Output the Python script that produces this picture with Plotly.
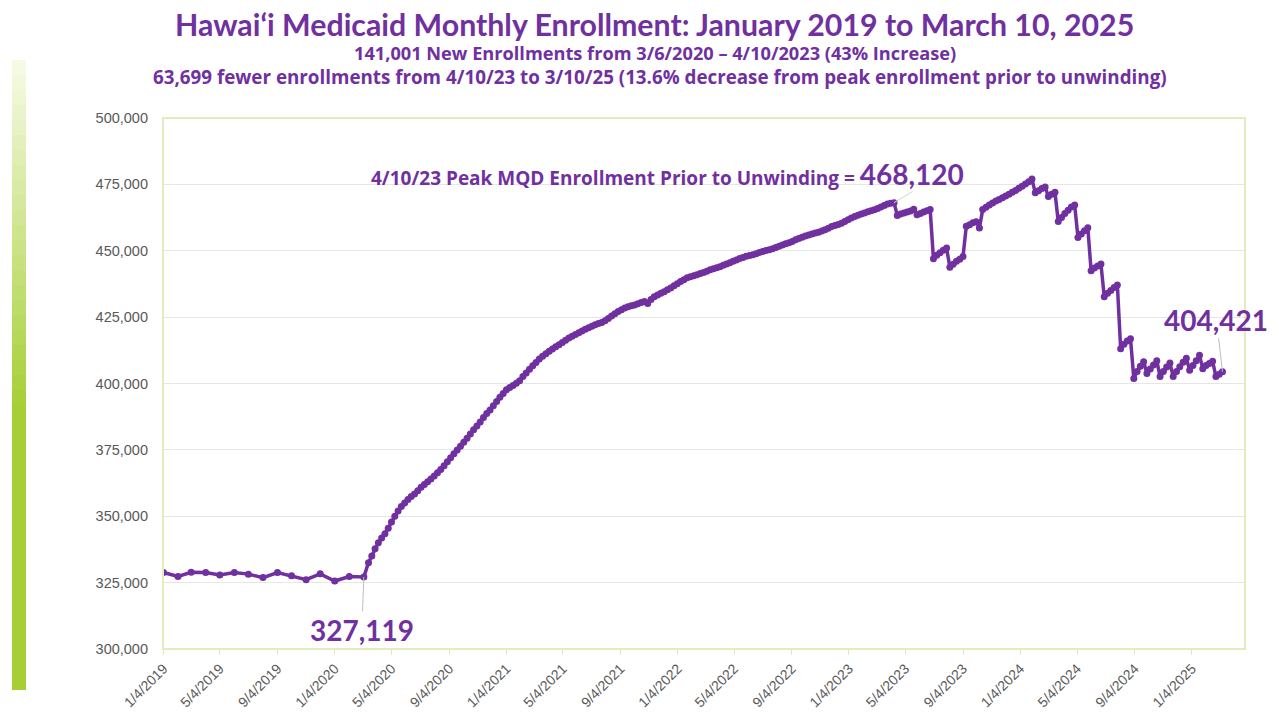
import pandas as pd
import plotly.graph_objects as go

# ---------------- data ----------------
monthly_dates = ["2019-01-04", "2019-02-04", "2019-03-04", "2019-04-04", "2019-05-04",
                 "2019-06-04", "2019-07-04", "2019-08-04", "2019-09-04", "2019-10-04",
                 "2019-11-04", "2019-12-04", "2020-01-04", "2020-02-04", "2020-03-06"]
monthly_values = [328800, 327300, 328900, 328800, 327900, 328800, 328200, 326900, 328800,
                  327600, 326100, 328300, 325600, 327300, 327119]

weekly_start = "2020-03-16"
weekly_end = "2025-03-10"
weekly_values = [
    332500, 335000, 337800, 340000, 341800, 343400, 345500, 347800, 350000, 352000,
    353700, 355000, 356300, 357400, 358400, 359600, 360900, 362000, 363000, 364000,
    365200, 366400, 367600, 369000, 370500, 372000, 373500, 375000, 376400, 377900,
    379400, 381000, 382600, 384000, 385500, 387200, 388700, 390000, 391600, 393200,
    394800, 396200, 397600, 398500, 399200, 400100, 401000, 402600, 404000, 405400,
    406700, 407900, 409200, 410300, 411200, 412100, 413000, 413800, 414600, 415400,
    416300, 417100, 417800, 418500, 419100, 419800, 420400, 421000, 421600, 422100,
    422600, 423000, 423600, 424500, 425400, 426300, 427100, 427800, 428400, 428900,
    429300, 429600, 430000, 430500, 430900, 430100, 431600, 432700, 433300, 434000,
    434600, 435300, 436000, 436800, 437600, 438400, 439100, 439800, 440200, 440600,
    441000, 441400, 441800, 442300, 442800, 443200, 443600, 444000, 444500, 445000,
    445500, 446000, 446500, 447100, 447500, 447900, 448200, 448500, 448900, 449300,
    449700, 450100, 450400, 450800, 451200, 451700, 452200, 452600, 453000, 453500,
    454100, 454600, 455100, 455600, 455900, 456300, 456700, 457000, 457400, 457900,
    458500, 459100, 459500, 459900, 460400, 461000, 461700, 462300, 462900, 463400,
    463800, 464200, 464700, 465100, 465400, 465900, 466500, 467000, 467600, 467900,
    468120, 463300, 463800, 464200, 464600, 465000, 465600, 463600, 464000, 464600,
    465100, 465500, 447000, 448300, 449200, 450200, 451000, 443800, 444900, 446000,
    446800, 447800, 459200, 459800, 460500, 460900, 458600, 465500, 466400, 467200,
    468000, 468700, 469300, 470000, 470600, 471300, 472000, 472700, 473500, 474300,
    475100, 476000, 477000, 471800, 472600, 473400, 474000, 470400, 471300, 472000,
    461000, 462500, 464000, 465300, 466500, 467200, 455000, 456300, 457500, 458700,
    442500, 443500, 444300, 445000, 432700, 434000, 435000, 436200, 437100, 413100,
    414800, 416000, 416900, 401900, 404500, 406500, 408200, 403800, 405500, 407000,
    408600, 402600, 404500, 406200, 407700, 402600, 404500, 406300, 408000, 409500,
    405000, 406800, 408600, 410600, 405600, 406800, 407500, 408400, 402600, 403500,
    404421,
]

tick_dates = ["2019-01-04", "2019-05-04", "2019-09-04", "2020-01-04", "2020-05-04",
              "2020-09-04", "2021-01-04", "2021-05-04", "2021-09-04", "2022-01-04",
              "2022-05-04", "2022-09-04", "2023-01-04", "2023-05-04", "2023-09-04",
              "2024-01-04", "2024-05-04", "2024-09-04", "2025-01-04"]
tick_labels = ["1/4/2019", "5/4/2019", "9/4/2019", "1/4/2020", "5/4/2020", "9/4/2020",
               "1/4/2021", "5/4/2021", "9/4/2021", "1/4/2022", "5/4/2022", "9/4/2022",
               "1/4/2023", "5/4/2023", "9/4/2023", "1/4/2024", "5/4/2024", "9/4/2024",
               "1/4/2025"]

title_text = "Hawai‘i Medicaid Monthly Enrollment: January 2019 to March 10, 2025"
sub1 = "141,001 New Enrollments from 3/6/2020 – 4/10/2023 (43% Increase)"
sub2 = ("63,699 fewer enrollments from 4/10/23 to 3/10/25 (13.6% decrease from peak "
        "enrollment prior to unwinding)")

low_date, low_value = "2020-03-06", 327119
peak_date, peak_value = "2023-04-10", 468120
last_date, last_value = "2025-03-10", 404421

# ---------------- build ----------------
weekly_dates = pd.date_range(weekly_start, weekly_end, freq="7D")
dates = list(pd.to_datetime(monthly_dates)) + list(weekly_dates)
values = monthly_values + weekly_values

PURPLE = "#7030A0"
FONT = "Lato, 'Noto Sans', sans-serif"
FONT2 = "'Open Sans', 'Noto Sans', sans-serif"
AXFONT = "'Liberation Sans', Arial, sans-serif"

fig = go.Figure()
fig.add_trace(go.Scatter(
    x=dates, y=values, mode="lines+markers",
    line=dict(color=PURPLE, width=3.5),
    marker=dict(color=PURPLE, size=7),
    hoverinfo="x+y",
))

# plot geometry in pixels
W, H = 1279, 715
L, R, T, B = 163, 34, 118, 66
pw, ph = W - L - R, H - T - B

def px_x(p):
    return (p - L) / pw

def px_y(p):
    return (H - B - p) / ph

shapes = []
# green gradient bar on the left
n = 42
y0, y1 = 60, 690
top = (247, 251, 232)
bot = (166, 207, 53)
for i in range(n):
    a = y0 + (y1 - y0) * i / n
    b = y0 + (y1 - y0) * (i + 1) / n
    t = min(1.0, (i + 0.5) / (n * 0.55))
    c = tuple(int(top[j] + (bot[j] - top[j]) * t) for j in range(3))
    shapes.append(dict(type="rect", xref="paper", yref="paper",
                       x0=px_x(12), x1=px_x(26), y0=px_y(b), y1=px_y(a),
                       line=dict(width=0), fillcolor="rgb(%d,%d,%d)" % c, layer="below"))
# plot border
shapes.append(dict(type="rect", xref="paper", yref="paper", x0=0, x1=1, y0=0, y1=1,
                   line=dict(color="#e2ecbd", width=2), layer="above"))

annotations = [
    dict(x=px_x(654), y=px_y(24), xref="paper", yref="paper", showarrow=False,
         xanchor="center", yanchor="middle",
         text="<b>" + title_text + "</b>", font=dict(family=FONT, size=30.3, color=PURPLE)),
    dict(x=px_x(655), y=px_y(53), xref="paper", yref="paper", showarrow=False,
         xanchor="center", yanchor="middle",
         text="<b>" + sub1 + "</b>", font=dict(family=FONT2, size=18.2, color=PURPLE)),
    dict(x=px_x(660), y=px_y(77), xref="paper", yref="paper", showarrow=False,
         xanchor="center", yanchor="middle",
         text="<b>" + sub2 + "</b>", font=dict(family=FONT2, size=18.8, color=PURPLE)),
    # 327,119
    dict(x=low_date, y=low_value, xref="x", yref="y", text="<b>327,119</b>",
         showarrow=True, arrowhead=0, arrowwidth=1, arrowcolor="#bfbfbf",
         ax=-2, ay=53, font=dict(family=FONT, size=28, color=PURPLE)),
    # peak label
    dict(x=peak_date, y=peak_value, xref="x", yref="y", showarrow=False,
         xanchor="right", yanchor="middle", xshift=72, yshift=29,
         text="<b>4/10/23 Peak MQD Enrollment Prior to Unwinding = "
              "<span style='font-family:Lato; font-size:28px'>468,120</span></b>",
         font=dict(family=FONT2, size=19, color=PURPLE)),
    dict(x=peak_date, y=peak_value, xref="x", yref="y", text=" ",
         showarrow=True, arrowhead=0, arrowwidth=1, arrowcolor="#c8dcc0",
         ax=20, ay=-12, font=dict(size=1)),
    # 404,421
    dict(x=last_date, y=last_value, xref="x", yref="y", text="<b>404,421</b>",
         showarrow=True, arrowhead=0, arrowwidth=1, arrowcolor="#bfbfbf",
         ax=-6, ay=-52, font=dict(family=FONT, size=28, color=PURPLE)),
]

fig.update_layout(
    width=W, height=H,
    margin=dict(l=L, r=R, t=T, b=B, autoexpand=False),
    paper_bgcolor="white", plot_bgcolor="white",
    showlegend=False,
    shapes=shapes,
    annotations=annotations,
    xaxis=dict(
        range=["2019-01-03", "2025-04-27"],
        tickvals=tick_dates, ticktext=tick_labels, tickangle=-45,
        tickfont=dict(family=AXFONT, size=14, color="#595959"),
        showgrid=False, zeroline=False, automargin=False,
        ticks="outside", ticklen=5, tickcolor="#dfe9bb",
        showline=False,
    ),
    yaxis=dict(
        range=[300000, 500000], tick0=300000, dtick=25000,
        tickformat=",d", automargin=False,
        tickfont=dict(family=AXFONT, size=14.5, color="#595959"),
        showgrid=True, gridcolor="#e6e6e6", gridwidth=1, zeroline=False,
        ticks="", ticklabelstandoff=14,
    ),
)

fig.write_html("out.html", config={"displayModeBar": False},
               post_script="document.body.style.margin='0';")
